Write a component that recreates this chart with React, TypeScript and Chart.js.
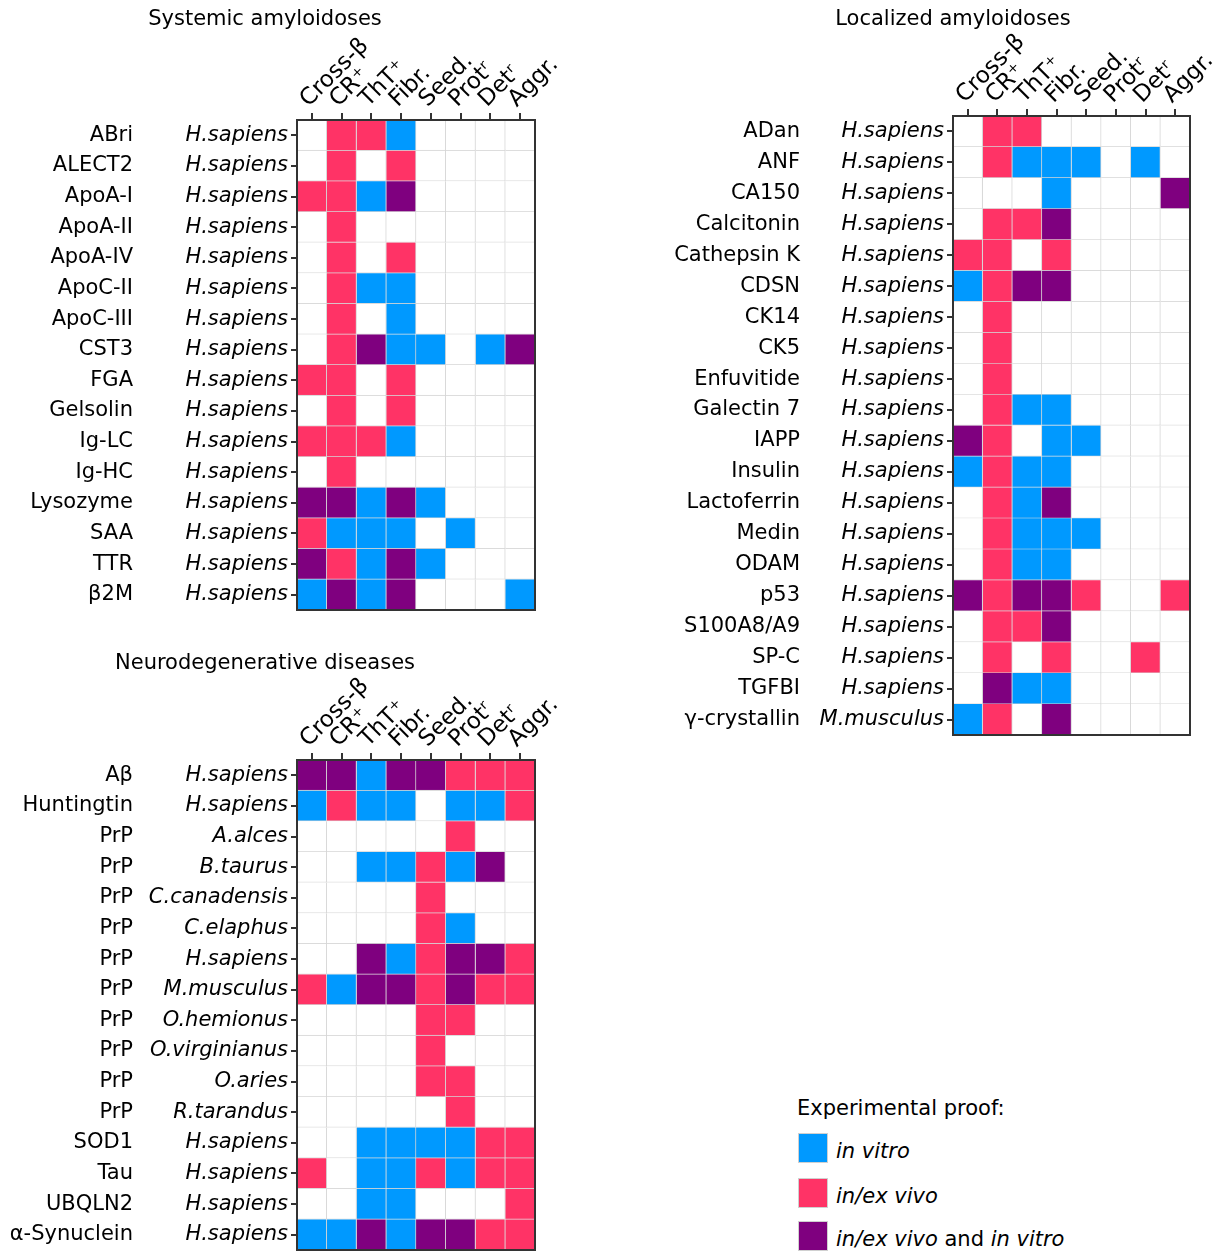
import React, { useEffect, useRef } from "react";
import { Chart, registerables } from "chart.js";

Chart.register(...registerables);

// ---------- data ----------
const columnLabels = ["Cross-β", "CR⁺", "ThT⁺", "Fibr.", "Seed.", "Protʳ", "Detʳ", "Aggr."];

// 0 = none, 1 = in vitro, 2 = in/ex vivo, 3 = in/ex vivo and in vitro
const proofLabels = ["none", "in vitro", "in/ex vivo", "in/ex vivo and in vitro"];
const proofColors = ["#ffffff", "#0099ff", "#ff3366", "#7f007f"];

const systemicTitle = "Systemic amyloidoses";
const systemicProteins = ["ABri", "ALECT2", "ApoA-I", "ApoA-II", "ApoA-IV", "ApoC-II", "ApoC-III", "CST3", "FGA", "Gelsolin", "Ig-LC", "Ig-HC", "Lysozyme", "SAA", "TTR", "β2M"];
const systemicSpecies = ["H.sapiens", "H.sapiens", "H.sapiens", "H.sapiens", "H.sapiens", "H.sapiens", "H.sapiens", "H.sapiens", "H.sapiens", "H.sapiens", "H.sapiens", "H.sapiens", "H.sapiens", "H.sapiens", "H.sapiens", "H.sapiens"];
const systemicValues = [
  [0, 2, 2, 1, 0, 0, 0, 0],
  [0, 2, 0, 2, 0, 0, 0, 0],
  [2, 2, 1, 3, 0, 0, 0, 0],
  [0, 2, 0, 0, 0, 0, 0, 0],
  [0, 2, 0, 2, 0, 0, 0, 0],
  [0, 2, 1, 1, 0, 0, 0, 0],
  [0, 2, 0, 1, 0, 0, 0, 0],
  [0, 2, 3, 1, 1, 0, 1, 3],
  [2, 2, 0, 2, 0, 0, 0, 0],
  [0, 2, 0, 2, 0, 0, 0, 0],
  [2, 2, 2, 1, 0, 0, 0, 0],
  [0, 2, 0, 0, 0, 0, 0, 0],
  [3, 3, 1, 3, 1, 0, 0, 0],
  [2, 1, 1, 1, 0, 1, 0, 0],
  [3, 2, 1, 3, 1, 0, 0, 0],
  [1, 3, 1, 3, 0, 0, 0, 1],
];

const localizedTitle = "Localized amyloidoses";
const localizedProteins = ["ADan", "ANF", "CA150", "Calcitonin", "Cathepsin K", "CDSN", "CK14", "CK5", "Enfuvitide", "Galectin 7", "IAPP", "Insulin", "Lactoferrin", "Medin", "ODAM", "p53", "S100A8/A9", "SP-C", "TGFBI", "γ-crystallin"];
const localizedSpecies = ["H.sapiens", "H.sapiens", "H.sapiens", "H.sapiens", "H.sapiens", "H.sapiens", "H.sapiens", "H.sapiens", "H.sapiens", "H.sapiens", "H.sapiens", "H.sapiens", "H.sapiens", "H.sapiens", "H.sapiens", "H.sapiens", "H.sapiens", "H.sapiens", "H.sapiens", "M.musculus"];
const localizedValues = [
  [0, 2, 2, 0, 0, 0, 0, 0],
  [0, 2, 1, 1, 1, 0, 1, 0],
  [0, 0, 0, 1, 0, 0, 0, 3],
  [0, 2, 2, 3, 0, 0, 0, 0],
  [2, 2, 0, 2, 0, 0, 0, 0],
  [1, 2, 3, 3, 0, 0, 0, 0],
  [0, 2, 0, 0, 0, 0, 0, 0],
  [0, 2, 0, 0, 0, 0, 0, 0],
  [0, 2, 0, 0, 0, 0, 0, 0],
  [0, 2, 1, 1, 0, 0, 0, 0],
  [3, 2, 0, 1, 1, 0, 0, 0],
  [1, 2, 1, 1, 0, 0, 0, 0],
  [0, 2, 1, 3, 0, 0, 0, 0],
  [0, 2, 1, 1, 1, 0, 0, 0],
  [0, 2, 1, 1, 0, 0, 0, 0],
  [3, 2, 3, 3, 2, 0, 0, 2],
  [0, 2, 2, 3, 0, 0, 0, 0],
  [0, 2, 0, 2, 0, 0, 2, 0],
  [0, 3, 1, 1, 0, 0, 0, 0],
  [1, 2, 0, 3, 0, 0, 0, 0],
];

const neuroTitle = "Neurodegenerative diseases";
const neuroProteins = ["Aβ", "Huntingtin", "PrP", "PrP", "PrP", "PrP", "PrP", "PrP", "PrP", "PrP", "PrP", "PrP", "SOD1", "Tau", "UBQLN2", "α-Synuclein"];
const neuroSpecies = ["H.sapiens", "H.sapiens", "A.alces", "B.taurus", "C.canadensis", "C.elaphus", "H.sapiens", "M.musculus", "O.hemionus", "O.virginianus", "O.aries", "R.tarandus", "H.sapiens", "H.sapiens", "H.sapiens", "H.sapiens"];
const neuroValues = [
  [3, 3, 1, 3, 3, 2, 2, 2],
  [1, 2, 1, 1, 0, 1, 1, 2],
  [0, 0, 0, 0, 0, 2, 0, 0],
  [0, 0, 1, 1, 2, 1, 3, 0],
  [0, 0, 0, 0, 2, 0, 0, 0],
  [0, 0, 0, 0, 2, 1, 0, 0],
  [0, 0, 3, 1, 2, 3, 3, 2],
  [2, 1, 3, 3, 2, 3, 2, 2],
  [0, 0, 0, 0, 2, 2, 0, 0],
  [0, 0, 0, 0, 2, 0, 0, 0],
  [0, 0, 0, 0, 2, 2, 0, 0],
  [0, 0, 0, 0, 0, 2, 0, 0],
  [0, 0, 1, 1, 1, 1, 2, 2],
  [2, 0, 1, 1, 2, 1, 2, 2],
  [0, 0, 1, 1, 0, 0, 0, 2],
  [1, 1, 3, 1, 3, 3, 2, 2],
];

const legendTitle = "Experimental proof:";

// ---------- styling ----------
const FONT = "'DejaVu Sans', sans-serif";
const FS = 21;
const COL_FS = 23;

type Geo = {
  left: number; top: number; width: number; height: number;
  chartLeft: number; outerW: number; xH: number; padRight: number; padBottom: number;
};

const framePlugin = {
  id: "frame",
  afterDatasetsDraw(chart: any) {
    const { ctx, chartArea: a } = chart;
    ctx.save();
    ctx.strokeStyle = "#333333";
    ctx.lineWidth = 2;
    ctx.strokeRect(a.left, a.top, a.right - a.left, a.bottom - a.top);
    ctx.restore();
  },
};

function Panel(props: { title: string; proteins: string[]; species: string[]; values: number[][]; geo: Geo }) {
  const ref = useRef<HTMLCanvasElement | null>(null);
  const { title, proteins, species, values, geo } = props;
  useEffect(() => {
    if (!ref.current) return;
    const datasets = columnLabels.map((col, c) => ({
      label: col,
      data: values.map(() => [c, c + 1]),
      backgroundColor: values.map((row) => proofColors[row[c]]),
      borderColor: "#d6d6d6",
      borderWidth: { top: 0, left: 0, right: 1, bottom: 1 },
      borderSkipped: false,
      barPercentage: 1,
      categoryPercentage: 1,
      grouped: false,
      xAxisID: "x",
      yAxisID: "y",
    }));
    const chart = new Chart(ref.current, {
      type: "bar",
      data: { labels: species, datasets: datasets as any },
      plugins: [framePlugin],
      options: {
        indexAxis: "y",
        responsive: false,
        maintainAspectRatio: false,
        animation: false,
        events: [],
        layout: { padding: 0 },
        plugins: {
          legend: { display: false },
          tooltip: { enabled: false },
          title: {
            display: true,
            text: title,
            color: "#000000",
            font: { family: FONT, size: FS, weight: "normal" as any },
            padding: { top: 7, bottom: 0 },
          },
        },
        scales: {
          x: {
            type: "linear",
            position: "top",
            min: 0,
            max: columnLabels.length,
            offset: false,
            afterBuildTicks: (s: any) => {
              s.ticks = columnLabels.map((_, i) => ({ value: i + 0.5 }));
            },
            afterFit: (s: any) => {
              s.height = geo.xH;
              s.paddingLeft = 0;
              s.paddingRight = geo.padRight;
            },
            grid: { display: true, drawOnChartArea: false, color: "#333333", lineWidth: 2, tickLength: 7 },
            border: { display: false },
            ticks: {
              autoSkip: false,
              minRotation: 45,
              maxRotation: 45,
              padding: 0,
              labelOffset: 12,
              color: "#000000",
              font: { family: FONT, size: COL_FS },
              callback: (_v: any, i: number) => columnLabels[i],
            },
          },
          y: {
            type: "category",
            position: "left",
            weight: 0,
            offset: true,
            labels: species,
            afterFit: (s: any) => {
              s.width = geo.chartLeft - geo.outerW;
              s.paddingTop = 0;
              s.paddingBottom = geo.padBottom;
            },
            grid: { display: true, drawOnChartArea: false, offset: false, color: "#333333", lineWidth: 2, tickLength: 6 },
            border: { display: false },
            ticks: {
              autoSkip: false,
              padding: 3,
              color: "#000000",
              font: { family: FONT, size: FS, style: "italic" },
            },
          },
          names: {
            type: "category",
            position: "left",
            axis: "y",
            weight: 1,
            offset: true,
            labels: proteins,
            afterFit: (s: any) => {
              s.width = geo.outerW;
              s.paddingTop = 0;
              s.paddingBottom = 0;
            },
            grid: { display: false, drawTicks: false, drawOnChartArea: false },
            border: { display: false },
            ticks: {
              autoSkip: false,
              padding: 3,
              color: "#000000",
              font: { family: FONT, size: FS },
            },
          },
        } as any,
      },
    });
    return () => chart.destroy();
  }, []);
  return (
    <canvas
      ref={ref}
      width={geo.width}
      height={geo.height}
      style={{ position: "absolute", left: geo.left, top: geo.top, width: geo.width, height: geo.height, display: "block" }}
    />
  );
}

const systemicGeo: Geo = { left: -38, top: 0, width: 606, height: 625, chartLeft: 335, outerW: 174, xH: 87.8, padRight: 33, padBottom: 15 };
const neuroGeo: Geo = { left: -38, top: 644, width: 606, height: 609, chartLeft: 335, outerW: 174, xH: 83.8, padRight: 33, padBottom: 3 };
const localizedGeo: Geo = { left: 670, top: 0, width: 566, height: 745, chartLeft: 283, outerW: 133, xH: 83.8, padRight: 46, padBottom: 10 };

function Legend() {
  const items = [1, 2, 3];
  const tops = [1133, 1178, 1221];
  const text = (k: number) => {
    if (k === 1) return <i>{proofLabels[1]}</i>;
    if (k === 2) return <i>{proofLabels[2]}</i>;
    return (
      <span>
        <i>in/ex vivo</i> and <i>in vitro</i>
      </span>
    );
  };
  return (
    <div style={{ fontFamily: FONT, fontSize: FS, color: "#000" }}>
      <div style={{ position: "absolute", left: 797, top: 1096, lineHeight: "24px", whiteSpace: "nowrap" }}>{legendTitle}</div>
      {items.map((k, i) => (
        <React.Fragment key={k}>
          <div
            style={{
              position: "absolute",
              left: 798,
              top: tops[i],
              width: 30,
              height: 30,
              boxSizing: "border-box",
              background: proofColors[k],
              border: "1px solid #d0d0d0",
            }}
          />
          <div style={{ position: "absolute", left: 836, top: tops[i] + 6, lineHeight: "24px", whiteSpace: "nowrap" }}>{text(k)}</div>
        </React.Fragment>
      ))}
    </div>
  );
}

export default function App() {
  return (
    <div style={{ position: "absolute", left: 0, top: 0, width: 1219, height: 1253, overflow: "hidden", background: "#ffffff" }}>
      <Panel title={systemicTitle} proteins={systemicProteins} species={systemicSpecies} values={systemicValues} geo={systemicGeo} />
      <Panel title={localizedTitle} proteins={localizedProteins} species={localizedSpecies} values={localizedValues} geo={localizedGeo} />
      <Panel title={neuroTitle} proteins={neuroProteins} species={neuroSpecies} values={neuroValues} geo={neuroGeo} />
      <Legend />
    </div>
  );
}
